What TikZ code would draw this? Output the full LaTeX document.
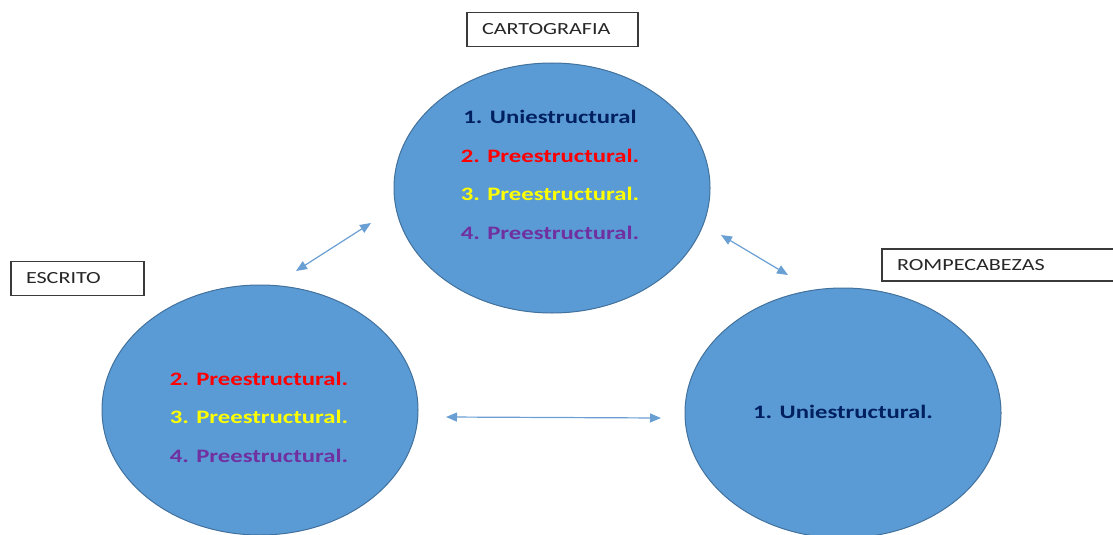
\documentclass[tikz,border=0pt]{standalone}
\usepackage{fontspec}
\setmainfont{Carlito}[FakeStretch=1.3]
\usetikzlibrary{positioning,shapes.geometric,arrows.meta}

\definecolor{discfill}{HTML}{5B9BD5}
\definecolor{discline}{HTML}{41719C}
\definecolor{linkblue}{HTML}{6A9FD4}
\definecolor{boxline}{HTML}{3A3A3A}
\definecolor{unicol}{HTML}{002060}
\definecolor{precolA}{HTML}{FF0000}
\definecolor{precolB}{HTML}{FFFF00}
\definecolor{precolC}{HTML}{7030A0}

\tikzset{
  disc/.style={ellipse, draw=discline, line width=1pt, fill=discfill,
               minimum width=316pt, minimum height=250pt, inner sep=0pt},
  tag/.style={draw=boxline, line width=1.3pt, fill=white, minimum height=34pt,
              inner xsep=15pt, align=left, text=black!85,
              font=\fontsize{17}{20}\selectfont},
  levels/.style={align=center, font=\fontsize{19}{38.5}\selectfont\bfseries},
  link/.style={<->, draw=linkblue, line width=1.2pt}
}

\begin{document}
\begin{tikzpicture}[x=1pt, y=-1pt, >={Triangle[length=11pt,width=9pt]}]

  \useasboundingbox (0,0) rectangle (1113,535);

  % the three discs
  \node[disc] (cartoDisc)   at (552,188) {};
  \node[disc] (escritoDisc) at (260,410) {};
  \node[disc] (rompeDisc)   at (843,413) {};

  % labels
  \node[tag, text width=141pt] (cartoTag)   at (552.5,29.5) {CARTOGRAFIA};
  \node[tag, text width=103pt] (escritoTag) at (77.5,278.5) {ESCRITO};
  \node[tag, text width=210pt, minimum height=32pt] (rompeTag) at (1002,265) {ROMPECABEZAS};

  % levels inside the discs
  \node[levels] (cartoText) at (550,175) {%
    \textcolor{unicol}{1. Uniestructural}\\
    \textcolor{precolA}{2. Preestructural.}\\
    \textcolor{precolB}{3. Preestructural.}\\
    \textcolor{precolC}{4. Preestructural.}};
  \node[levels] (escritoText) at (259,417) {%
    \textcolor{precolA}{2. Preestructural.}\\
    \textcolor{precolB}{3. Preestructural.}\\
    \textcolor{precolC}{4. Preestructural.}};
  \node[levels] (rompeText) at (843,412) {\textcolor{unicol}{1. Uniestructural.}};

  % links
  \coordinate (ceA) at (296,271);
  \coordinate (ceB) at (371,223);
  \coordinate (crA) at (721,235);
  \coordinate (crB) at (788,275);
  \coordinate (erA) at (446,417);
  \coordinate (erB) at (661,418);

  \draw[link] (ceA) -- (ceB);
  \draw[link] (crA) -- (crB);
  \draw[link] (erA) -- (erB);

\end{tikzpicture}
\end{document}
